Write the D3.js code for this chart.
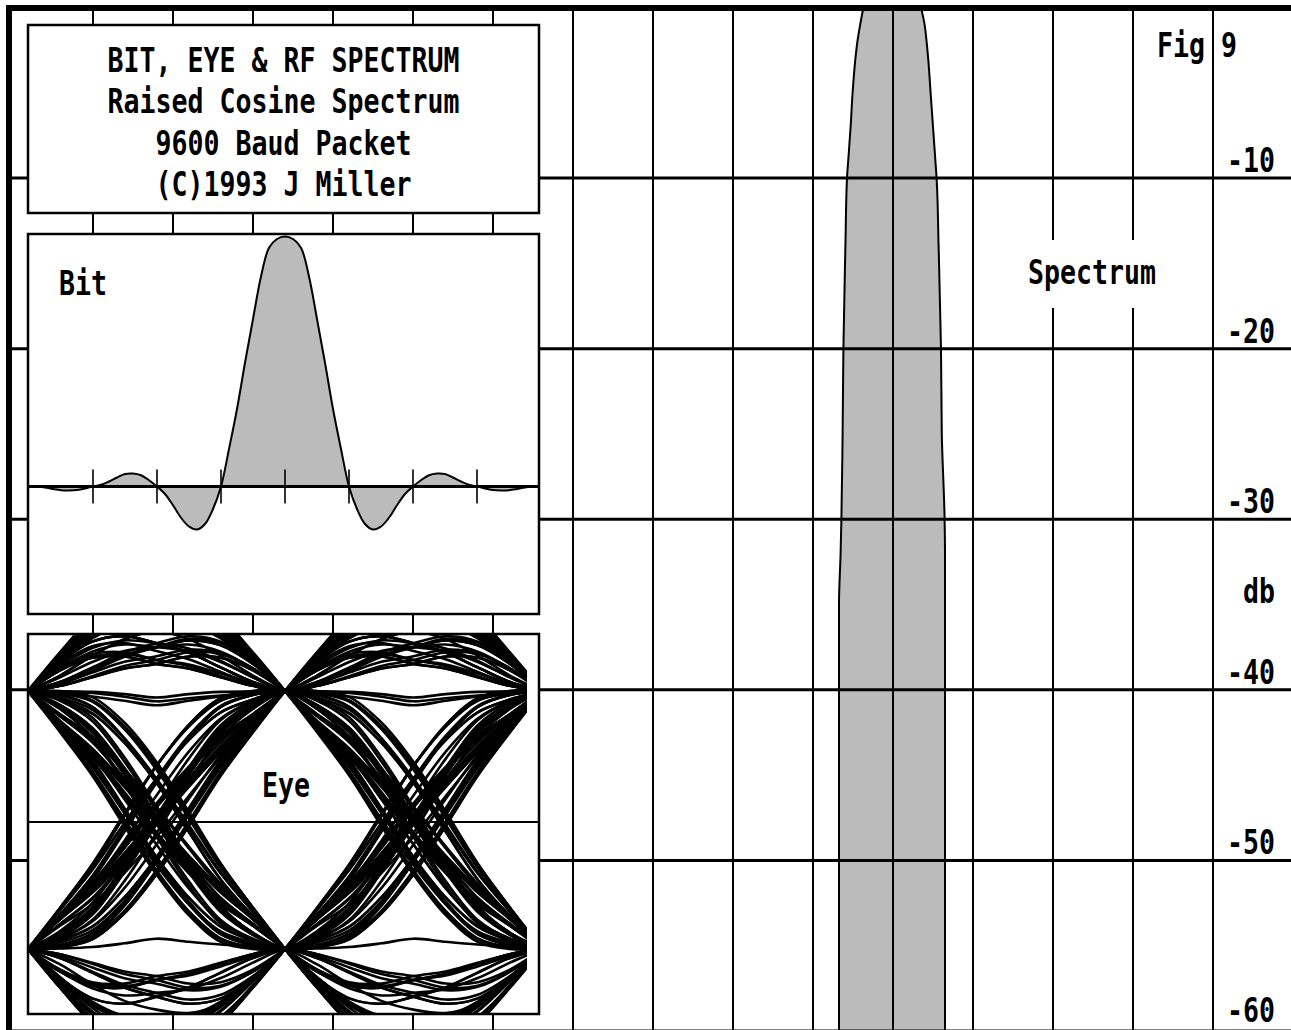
<!DOCTYPE html>
<html>
<head>
<meta charset="utf-8">
<script src="https://cdn.jsdelivr.net/npm/d3@7"></script>
<style>
  html, body { margin: 0; padding: 0; background: #fff; }
  svg { display: block; }
  text { font-family: "DejaVu Sans Mono", monospace; font-weight: bold; font-size: 34px; fill: #000; }
</style>
</head>
<body>
<svg id="chart" width="1291" height="1030"></svg>
<script>
// ---------------- data ----------------
// Spectrum grid: dB levels and frequency offsets from carrier (kHz, 10 kHz / division)
const dbTicks = [-10, -20, -30, -40, -50, -60];
const freqGrid = [-100, -90, -80, -70, -60, -50, -40, -30, -20, -10, 0, 10, 20, 30, 40, 50];

// RF spectrum envelope: level (dB) and lower / upper edge frequency (kHz)
const specDb = [0, -1, -2, -3, -5, -7, -9, -10, -14, -20, -25, -30, -32, -35, -60];
const specLo = [-3.7, -4.1, -4.45, -4.7, -5.05, -5.3, -5.6, -5.75, -5.95, -6.2, -6.3, -6.45, -6.55, -6.75, -6.75];
const specHi = [3.5, 3.95, 4.2, 4.4, 4.7, 5.0, 5.3, 5.45, 5.7, 6.0, 6.1, 6.45, 6.5, 6.5, 6.5];

// Single-bit raised cosine pulse, 8 samples per symbol, t = -4 ... +4 symbols
const samplesPerSymbol = 8;
const pulse = [
  0, 0, -0.004, -0.01, -0.015, -0.016, -0.014, -0.008, 0,
  0.007, 0.02, 0.036, 0.05, 0.052, 0.045, 0.025, 0,
  -0.03, -0.075, -0.125, -0.16, -0.172, -0.15, -0.09, 0,
  0.15, 0.31, 0.495, 0.67, 0.84, 0.955, 0.99, 1.0,
  0.99, 0.955, 0.84, 0.67, 0.495, 0.31, 0.15, 0,
  -0.09, -0.15, -0.172, -0.16, -0.125, -0.075, -0.03, 0,
  0.025, 0.045, 0.052, 0.05, 0.036, 0.02, 0.007, 0,
  -0.008, -0.014, -0.016, -0.015, -0.01, -0.004, 0, 0
];
const bitTicks = [-3, -2, -1, 0, 1, 2, 3];

// Packet bit stream used for the eye pattern
const bits = [
  1,0,1,1,0,0,1,1,1,0, 0,0,1,0,1,1,1,1,0,1,
  0,0,1,0,0,1,1,0,1,0, 1,1,1,0,0,1,1,0,0,0,
  1,0,1,1,0,1,0,0,1,1, 1,1,0,1,0,0,0,1,1,0,
  1,1,0,0,1,0,1,0,1,1, 1,0,0,0,1,0,0,1,1,0,
  0,1,1,0,1,0,0,0,1,1, 1,0,1,0,0,1,0,1,1,1,
  0,0,1,1,0,1,1,0,0,0, 1,1,1,1,0,0,1,0,1,0,
  0,1,0,1,1,0,0,1,1,1, 0,1,1,0,0,0,0,1,0,1,
  1,0,1,1,1,0,1,0,0,1, 0,0,1,1,1,0,1,1,0,0
];

const titleLines = ["BIT, EYE & RF SPECTRUM", "Raised Cosine Spectrum", "9600 Baud Packet", "(C)1993 J Miller"];

// ---------------- layout ----------------
const W = 1291, H = 1030;
const GRAY = "#bbbbbb";
const CHAR_W = 16;

const svg = d3.select("#chart");
svg.append("rect").attr("width", W).attr("height", H).attr("fill", "#fff");
const defs = svg.append("defs");

const xSpec = d3.scaleLinear().domain([-110, 50]).range([13, 1293]);
const ySpec = d3.scaleLinear().domain([0, -60]).range([7.5, 1031]);

function label(g, str, x, y, anchor) {
  return g.append("text")
    .attr("x", x).attr("y", y)
    .attr("text-anchor", anchor || "start")
    .attr("textLength", str.length * CHAR_W)
    .attr("lengthAdjust", "spacingAndGlyphs")
    .text(str);
}

// ---------------- spectrum ----------------
defs.append("clipPath").attr("id", "clipSpec")
  .append("rect").attr("x", 12).attr("y", 10).attr("width", W).attr("height", H);

const specRows = specDb.map((d, i) => ({ db: d, lo: specLo[i], hi: specHi[i] }));
const gSpec = svg.append("g").attr("clip-path", "url(#clipSpec)");

gSpec.append("path")
  .datum(specRows)
  .attr("fill", GRAY)
  .attr("d", d3.area()
    .y(d => ySpec(d.db))
    .x0(d => xSpec(d.lo))
    .x1(d => xSpec(d.hi))
    .curve(d3.curveMonotoneY));

// grid
const gGrid = svg.append("g");
gGrid.selectAll("line.v")
  .data(freqGrid)
  .join("line")
  .attr("class", "v")
  .attr("x1", d => xSpec(d)).attr("x2", d => xSpec(d))
  .attr("y1", 8).attr("y2", H)
  .attr("stroke", "#000").attr("stroke-width", 2);

gGrid.selectAll("line.h")
  .data(dbTicks)
  .join("line")
  .attr("class", "h")
  .attr("x1", 9).attr("x2", W)
  .attr("y1", d => ySpec(d)).attr("y2", d => ySpec(d))
  .attr("stroke", "#000").attr("stroke-width", 3);

// spectrum edges
const gEdge = svg.append("g").attr("clip-path", "url(#clipSpec)");
["lo", "hi"].forEach(k => {
  gEdge.append("path")
    .datum(specRows)
    .attr("fill", "none")
    .attr("stroke", "#000")
    .attr("stroke-width", 2)
    .attr("d", d3.line()
      .y(d => ySpec(d.db))
      .x(d => xSpec(d[k]))
      .curve(d3.curveMonotoneY));
});

// outer frame (0 dB line and left edge)
svg.append("rect").attr("x", 6).attr("y", 5).attr("width", W - 6).attr("height", 6).attr("fill", "#000");
svg.append("rect").attr("x", 6).attr("y", 5).attr("width", 6).attr("height", H - 5).attr("fill", "#000");

// spectrum labels
const gLab = svg.append("g");
gLab.append("rect").attr("x", 1020).attr("y", 240).attr("width", 148).attr("height", 68).attr("fill", "#fff");
label(gLab, "Spectrum", 1028, 284);
label(gLab, "Fig", 1157, 57);
label(gLab, "9", 1221, 57);
gLab.selectAll("text.tick")
  .data(dbTicks)
  .join("text")
  .attr("class", "tick")
  .attr("x", 1227)
  .attr("y", d => Math.min(ySpec(d) - 6, 1022))
  .attr("textLength", d => String(d).length * CHAR_W)
  .attr("lengthAdjust", "spacingAndGlyphs")
  .text(d => String(d));
label(gLab, "db", 1243, 603);

// ---------------- panels ----------------
const panelX = 28, panelW = 511;
const panels = [
  { y: 25, h: 188 },   // title
  { y: 234, h: 380 },  // bit
  { y: 634, h: 380 }   // eye
];
svg.selectAll("rect.panel")
  .data(panels)
  .join("rect")
  .attr("class", "panel")
  .attr("x", panelX).attr("y", d => d.y)
  .attr("width", panelW).attr("height", d => d.h)
  .attr("fill", "#fff").attr("stroke", "#000").attr("stroke-width", 2.5);

// title block
const gTitle = svg.append("g");
const titleBase = [72, 113, 155, 196];
titleLines.forEach((s, i) => label(gTitle, s, panelX + panelW / 2, titleBase[i], "middle"));

// ---------------- bit pulse ----------------
defs.append("clipPath").attr("id", "clipBit")
  .append("rect").attr("x", panelX + 1).attr("y", 235).attr("width", panelW - 2).attr("height", 378);

const bitX = d3.scaleLinear().domain([-4, 4]).range([29, 541]);
const bitY = d3.scaleLinear().domain([0, 1]).range([486.5, 236.5]);
const pulsePts = pulse.map((v, i) => ({ t: i / samplesPerSymbol - 4, v }));

const gBit = svg.append("g").attr("clip-path", "url(#clipBit)");
gBit.append("path")
  .datum(pulsePts)
  .attr("fill", GRAY)
  .attr("d", d3.area().x(d => bitX(d.t)).y0(bitY(0)).y1(d => bitY(d.v)).curve(d3.curveCatmullRom));
gBit.append("path")
  .datum(pulsePts)
  .attr("fill", "none").attr("stroke", "#000").attr("stroke-width", 2)
  .attr("d", d3.line().x(d => bitX(d.t)).y(d => bitY(d.v)).curve(d3.curveCatmullRom));
gBit.append("line")
  .attr("x1", panelX).attr("x2", panelX + panelW)
  .attr("y1", bitY(0)).attr("y2", bitY(0))
  .attr("stroke", "#000").attr("stroke-width", 3);
gBit.selectAll("line.btick")
  .data(bitTicks)
  .join("line")
  .attr("class", "btick")
  .attr("x1", d => bitX(d)).attr("x2", d => bitX(d))
  .attr("y1", bitY(0) - 17).attr("y2", bitY(0) + 17)
  .attr("stroke", "#000").attr("stroke-width", 1.6);
label(svg, "Bit", 59, 295);

// ---------------- eye pattern ----------------
defs.append("clipPath").attr("id", "clipEye")
  .append("rect").attr("x", panelX).attr("y", 635).attr("width", 499).attr("height", 378);

const eyeX = d3.scaleLinear().domain([0, 2]).range([28, 542]);
const eyeY = d3.scaleLinear().domain([-1, 1]).range([949, 691]);
const mid = (pulse.length - 1) / 2;

// received waveform at stream sample n: sum of the bit pulses
function streamSample(n) {
  let s = 0;
  bits.forEach((b, j) => {
    const i = n - j * samplesPerSymbol + mid;
    if (i >= 0 && i < pulse.length) s += (b ? 1 : -1) * pulse[i];
  });
  return s;
}
const traces = [];
for (let k = 4; k + 2 <= bits.length - 5; k++) {
  const pts = [];
  for (let m = 0; m <= 2 * samplesPerSymbol; m++) {
    pts.push({ t: m / samplesPerSymbol, v: streamSample(k * samplesPerSymbol + m) });
  }
  traces.push(pts);
}

const gEye = svg.append("g");
gEye.append("line")
  .attr("x1", panelX).attr("x2", panelX + panelW)
  .attr("y1", 822).attr("y2", 822)
  .attr("stroke", "#000").attr("stroke-width", 2);
gEye.append("g").attr("clip-path", "url(#clipEye)")
  .selectAll("path")
  .data(traces)
  .join("path")
  .attr("fill", "none").attr("stroke", "#000").attr("stroke-width", 2.6)
  .attr("d", d3.line().x(d => eyeX(d.t)).y(d => eyeY(d.v)).curve(d3.curveCatmullRom));
label(svg, "Eye", 262, 797);
</script>
</body>
</html>
